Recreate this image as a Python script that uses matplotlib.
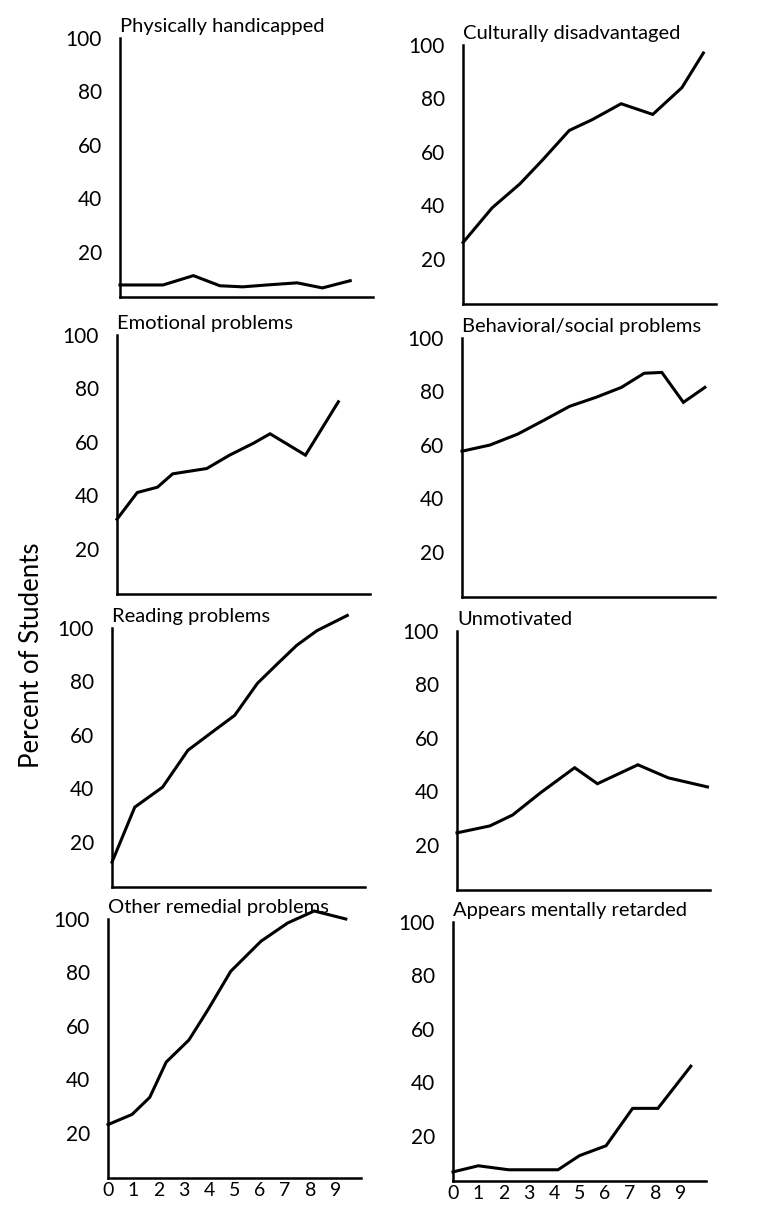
import matplotlib.pyplot as plt

plt.rcParams['font.family'] = ['Lato', 'DejaVu Sans']

W, H = 759, 1211
PX_PER_UNIT_X = 25.3
PX_PER_UNIT_Y = 2.67
Y_MIN, Y_MAX = 3, 100
X_MAX = 10.0

TITLES = [
    "Physically handicapped", "Culturally disadvantaged",
    "Emotional problems", "Behavioral/social problems",
    "Reading problems", "Unmotivated",
    "Other remedial problems", "Appears mentally retarded",
]

# grade position (x) and percent (y)
X_PHYS = [0, 1.7, 2.9, 3.95, 4.85, 5.8, 7.0, 8.0, 9.1]
Y_PHYS = [7.5, 7.5, 11, 7.2, 6.8, 7.5, 8.3, 6.4, 9.1]

X_CULT = [0, 1.15, 2.25, 3.15, 4.2, 5.1, 6.25, 7.5, 8.65, 9.5]
Y_CULT = [26, 39, 48, 57, 68, 72, 78, 74, 84, 97]

X_EMOT = [0, 0.8, 1.6, 2.2, 3.55, 4.45, 5.4, 6.05, 7.45, 8.75]
Y_EMOT = [31, 41, 43, 48, 50, 55, 59.5, 63, 55, 75]

X_BEHAV = [0, 1.1, 2.2, 3.2, 4.25, 5.3, 6.3, 7.2, 7.9, 8.75, 9.6]
Y_BEHAV = [57.6, 59.9, 64, 69, 74.4, 77.8, 81.5, 86.8, 87.1, 75.9, 81.5]

X_READ = [0, 0.9, 2.0, 3.0, 3.9, 4.85, 5.75, 6.55, 7.3, 8.1, 9.3]
Y_READ = [12.3, 32.9, 40.4, 54.2, 60.6, 67.3, 79.3, 86.7, 93.5, 99, 104.7]

X_UNMOT = [0, 1.3, 2.2, 3.3, 4.65, 5.55, 7.15, 8.35, 9.9]
Y_UNMOT = [24.4, 27, 31.1, 39.4, 48.8, 42.8, 49.9, 45, 41.6]

X_REMED = [0, 0.95, 1.65, 2.3, 3.2, 3.95, 4.85, 6.05, 7.1, 8.15, 9.4]
Y_REMED = [23, 26.8, 33.2, 46.4, 54.7, 66, 80.4, 91.7, 98.5, 103, 100]

X_RETARD = [0, 1.0, 2.2, 3.35, 4.15, 5.0, 6.05, 7.1, 8.1, 9.4]
Y_RETARD = [6.4, 8.7, 7.2, 7.2, 7.2, 12.5, 16.2, 30.2, 30.2, 46]

SERIES = [
    (X_PHYS, Y_PHYS), (X_CULT, Y_CULT),
    (X_EMOT, Y_EMOT), (X_BEHAV, Y_BEHAV),
    (X_READ, Y_READ), (X_UNMOT, Y_UNMOT),
    (X_REMED, Y_REMED), (X_RETARD, Y_RETARD),
]

Y_TICKS = [20, 40, 60, 80, 100]
X_TICKS = list(range(10))

# pixel anchors per panel: (left spine x, y pixel of value 0); the scan is a bit skewed
ANCHORS = [
    (120, 305), (463, 312),
    (117, 602), (462, 605),
    (112, 895), (457, 898),
    (108, 1186), (453, 1189),
]


def main():
    fig = plt.figure(figsize=(W / 100, H / 100), dpi=100)

    for i, (title, (xs, ys), (lx, zero)) in enumerate(zip(TITLES, SERIES, ANCHORS)):
        bottom_px = zero - Y_MIN * PX_PER_UNIT_Y
        top_px = zero - Y_MAX * PX_PER_UNIT_Y
        ax = fig.add_axes([lx / W, 1 - bottom_px / H,
                           X_MAX * PX_PER_UNIT_X / W, (bottom_px - top_px) / H])
        ax.plot(xs, ys, color='black', lw=2.2, clip_on=False,
                solid_joinstyle='miter')
        ax.set_xlim(0, X_MAX)
        ax.set_ylim(Y_MIN, Y_MAX)
        for s in ('top', 'right'):
            ax.spines[s].set_visible(False)
        for s in ('left', 'bottom'):
            ax.spines[s].set_linewidth(1.8)
        ax.set_yticks(Y_TICKS)
        ax.tick_params(axis='y', length=0, pad=13, labelsize=15)
        if i >= 6:
            ax.set_xticks(X_TICKS)
            ax.tick_params(axis='x', length=0, pad=3, labelsize=14)
        else:
            ax.set_xticks([])
        ax.text(0, 1.01, title, transform=ax.transAxes, ha='left', va='bottom',
                fontsize=14.5)

    fig.text(32 / W, 1 - 655 / H, "Percent of Students", rotation=90,
             ha='center', va='center', fontsize=18.5)

    fig.savefig("out.png", dpi=100)


if __name__ == "__main__":
    main()
